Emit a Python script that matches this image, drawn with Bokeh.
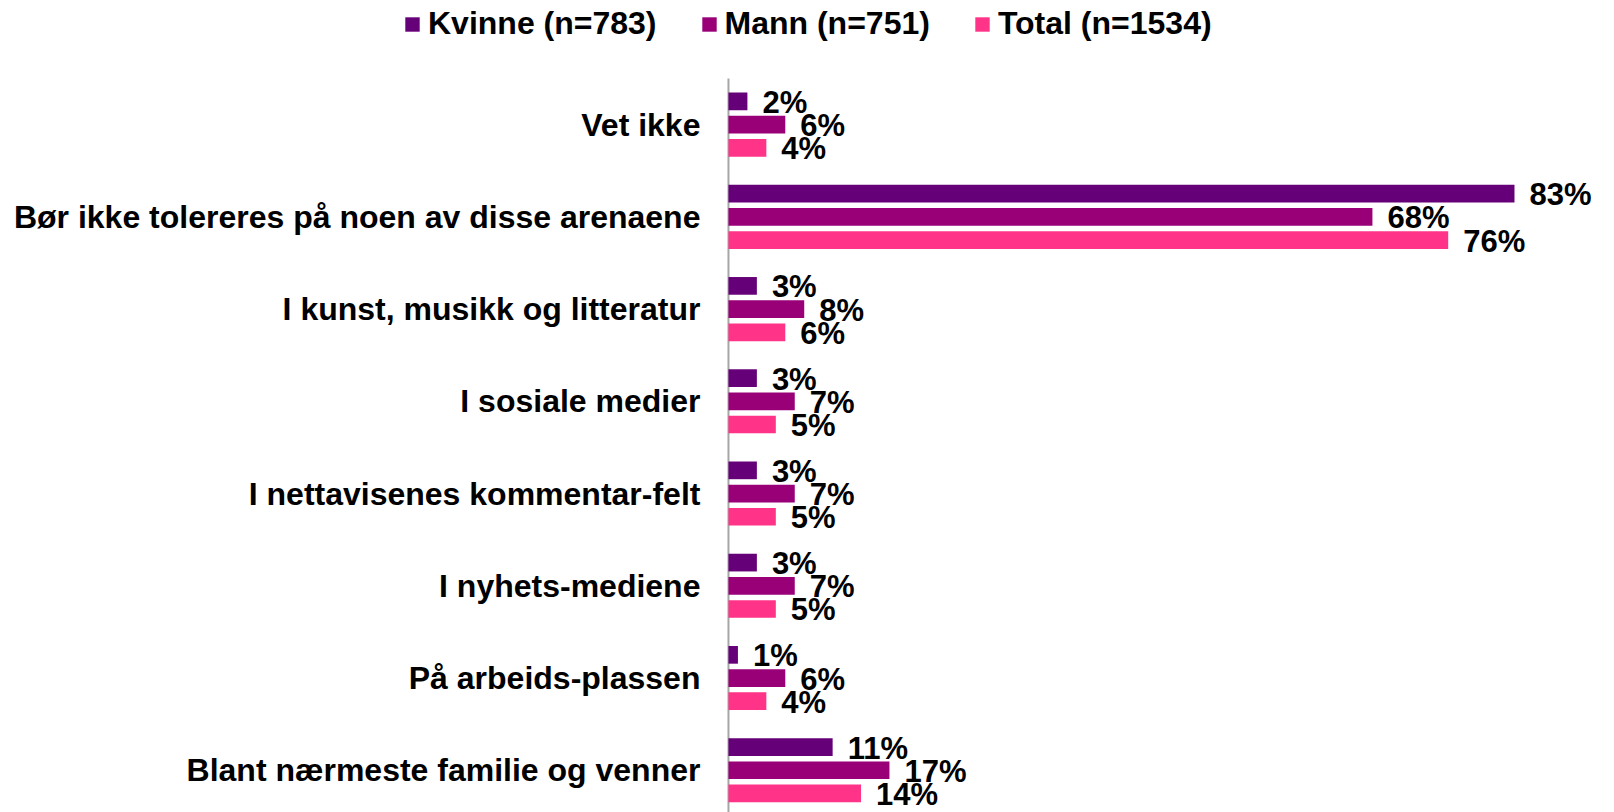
from bokeh.plotting import figure
from bokeh.models import ColumnDataSource, Range1d, Legend, LegendItem
from bokeh.transform import dodge
from bokeh.core.properties import value
from bokeh.embed import file_html
from bokeh.resources import INLINE

categories = [
    "Vet ikke",
    "Bør ikke tolereres på noen av disse arenaene",
    "I kunst, musikk og litteratur",
    "I sosiale medier",
    "I nettavisenes kommentar-felt",
    "I nyhets-mediene",
    "På arbeids-plassen",
    "Blant nærmeste familie og venner",
]
kvinne = [2, 83, 3, 3, 3, 3, 1, 11]
mann = [6, 68, 8, 7, 7, 7, 6, 17]
total = [4, 76, 6, 5, 5, 5, 4, 14]
series_names = ["Kvinne (n=783)", "Mann (n=751)", "Total (n=1534)"]
colors = ["#660078", "#990078", "#FF3388"]

FONT = "Liberation Sans"
pos = list(range(len(categories)))

# The frame covers the whole canvas so that the legend above the bars is not clipped;
# the ranges leave room for the category labels (left) and the legend (top).
p = figure(width=1612, height=812, output_backend="svg", toolbar_location=None,
           x_range=Range1d(-76.87, 93.35), y_range=Range1d(7.458, -1.3456),
           min_border_left=0, min_border_right=0, min_border_top=0, min_border_bottom=0)
p.axis.visible = False
p.grid.visible = False
p.outline_line_color = None

# category axis line at x = 0
p.segment(x0=[0], y0=[-0.5], x1=[0], y1=[len(categories)], line_color="#a6a6a6", line_width=2)

# category labels
cat_src = ColumnDataSource(dict(pos=pos, cat=categories, zero=[0] * len(categories)))
p.text(x="zero", y="pos", text="cat", source=cat_src, x_offset=-28,
       text_align="right", text_baseline="middle",
       text_font=value(FONT), text_font_style="bold", text_font_size="32px",
       text_color="#000000")

offsets = [-0.2515, 0.0, 0.2515]
items = []
for name, vals, col, off in zip(series_names, [kvinne, mann, total], colors, offsets):
    src = ColumnDataSource(dict(pos=pos, val=vals, lbl=[f"{v}%" for v in vals]))
    r = p.hbar(y=dodge("pos", off, range=p.y_range), right="val", left=0, height=0.192,
               source=src, fill_color=col, line_color=None)
    p.text(x="val", y=dodge("pos", off, range=p.y_range), text="lbl", source=src,
           x_offset=15, y_offset=1, text_baseline="middle", text_align="left",
           text_font=value(FONT), text_font_style="bold", text_font_size="31px",
           text_color="#000000")
    items.append(LegendItem(label=name, renderers=[r]))

legend = Legend(items=items, orientation="horizontal", location=(403, 770),
                glyph_width=18, glyph_height=18, label_standoff=7, spacing=43,
                padding=0, margin=0, border_line_color=None, background_fill_alpha=0,
                label_text_font=FONT, label_text_font_style="bold",
                label_text_font_size="32px", label_text_color="#000000")
p.add_layout(legend, "center")

open("out.html", "w").write(file_html(p, INLINE))
